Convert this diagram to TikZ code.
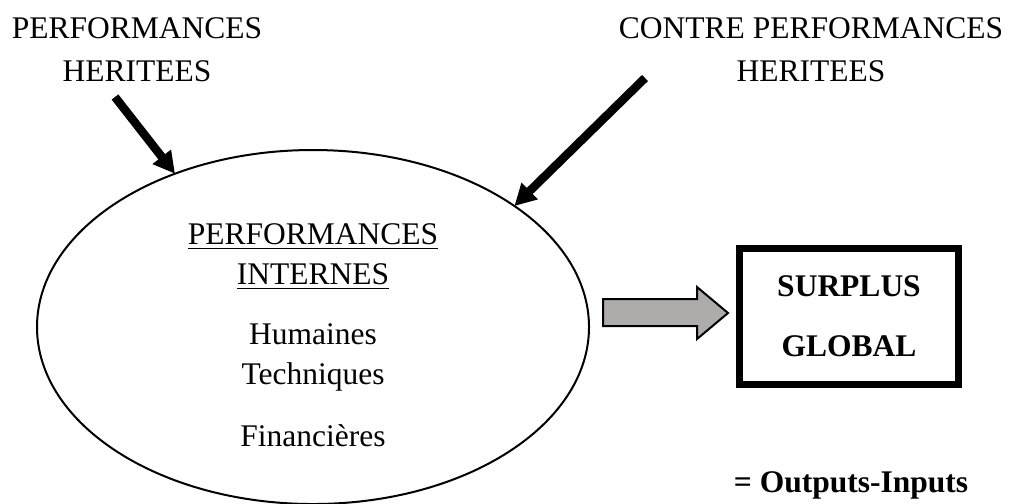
\documentclass[tikz,border=0pt]{standalone}
\usepackage{fontspec}
\setmainfont{Liberation Serif}
\usepackage{tikz}
\usetikzlibrary{arrows.meta,positioning,shapes.geometric}
\definecolor{blockgray}{RGB}{175,171,171}

\begin{document}
\begin{tikzpicture}[
  x=0.4pt,y=-0.4pt,
  font=\fontsize{12.6}{16}\selectfont,
  lbl/.style={align=center,inner sep=0pt,anchor=north,font=\fontsize{12.6}{17.2}\selectfont},
  bubble/.style={draw,ellipse,line width=0.8pt,inner sep=0pt,outer sep=0pt,minimum width=220.8pt,minimum height=141.6pt},
  result/.style={draw,line width=2.8pt,minimum width=87.6pt,minimum height=54.4pt,align=center,font=\fontsize{12.6}{24}\selectfont\bfseries},
  heavyarr/.style={-{Triangle[length=8.6pt,width=8.8pt]},line width=3.4pt},
  blockarr/.style={draw,line width=0.8pt,fill=blockgray,line join=miter}
]
\useasboundingbox (0,0) rectangle (1011,503);

% ---- inherited performances (top) ----
\node[lbl] (heritL) at (137,17) {PERFORMANCES\\HERITEES};
\node[lbl] (heritR) at (811,17) {CONTRE PERFORMANCES\\HERITEES};

% ---- internal performances ----
\node[bubble] (perf) at (313,327) {};
\node[align=center,inner sep=0pt,anchor=north] (perftitle) at (313,223)
   {\underline{PERFORMANCES}\\\underline{INTERNES}};
\node[align=center,inner sep=0pt,anchor=north] (perflist) at (313,323)
   {Humaines\\Techniques\\[8.8pt]Financières};

\coordinate (inL) at (115,97);
\coordinate (inR) at (645,78);
\draw[heavyarr] (inL) -- (perf.132);
\draw[heavyarr] (inR) -- (perf.31);

% ---- surplus (right) ----
\node[result] (surplus) at (849,316.5) {SURPLUS\\GLOBAL};
\node[anchor=base,inner sep=0pt,font=\fontsize{12.6}{16}\selectfont\bfseries] (formula) at (851,492)
   {= Outputs-Inputs};

% block arrow between the two
\draw[blockarr] (603,299) -- (697,299) -- (697,287) -- (728,313)
   -- (697,339) -- (697,326) -- (603,326) -- cycle;
\end{tikzpicture}
\end{document}
